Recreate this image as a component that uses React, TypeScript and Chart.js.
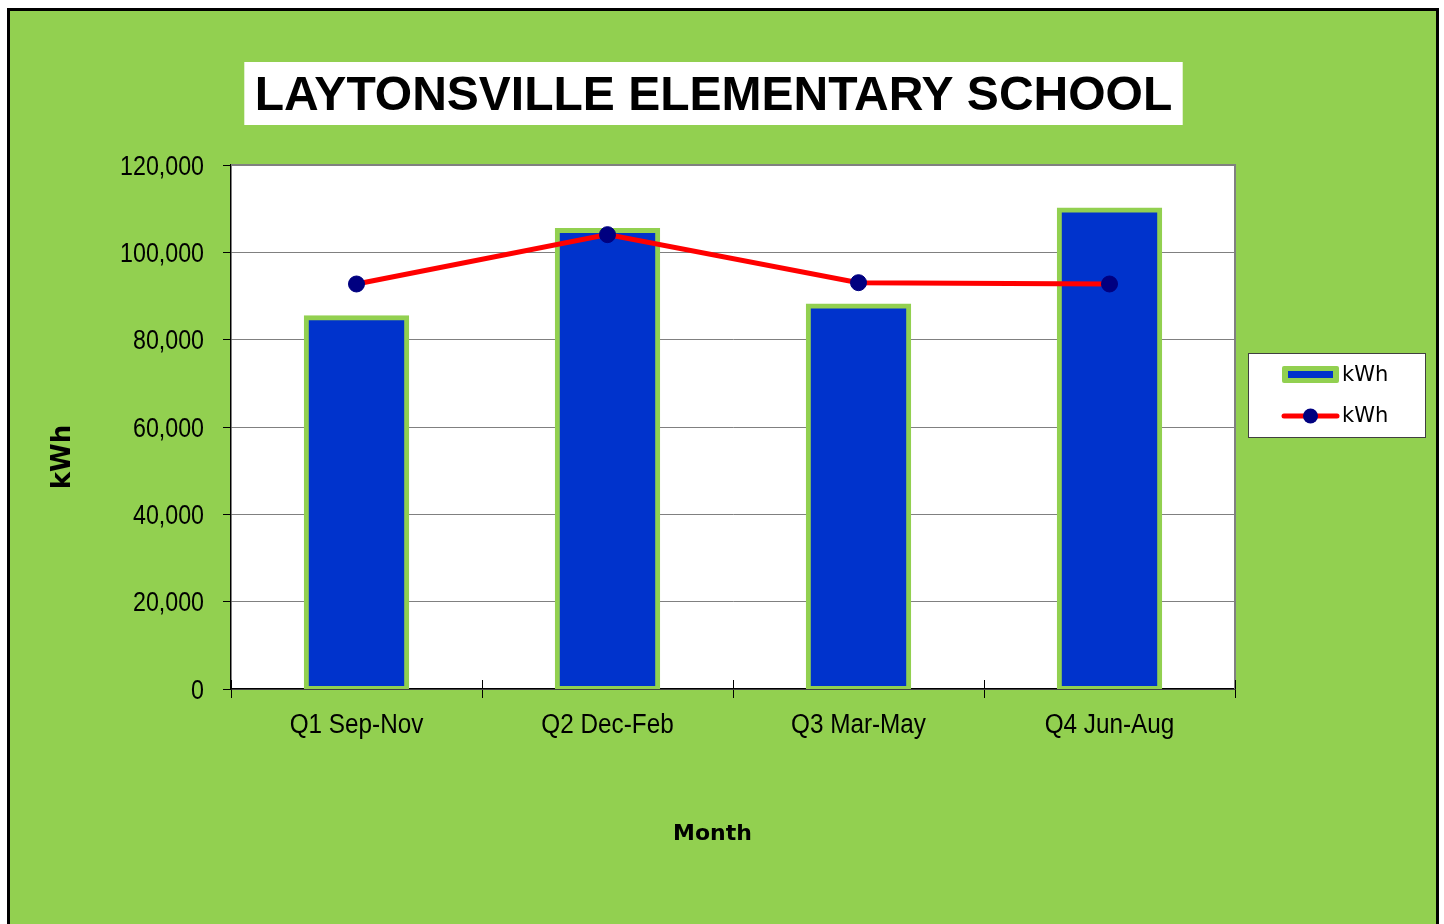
import React, { useEffect, useRef } from "react";
import { Chart, registerables } from "chart.js";

Chart.register(...registerables);

const chartTitle = "LAYTONSVILLE ELEMENTARY SCHOOL";
const xAxisTitle = "Month";
const yAxisTitle = "kWh";
const categories = ["Q1 Sep-Nov", "Q2 Dec-Feb", "Q3 Mar-May", "Q4 Jun-Aug"];
const barLabel = "kWh";
const barValues = [85000, 105000, 87700, 109700];
const lineLabel = "kWh";
const lineValues = [92750, 104050, 93050, 92750];
const yMin = 0;
const yMax = 120000;
const yStep = 20000;

const GREEN = "#92D050";
const BLUE = "#0033CC";
const RED = "#FF0000";
const NAVY = "#000080";
const SANS = "'Liberation Sans', Arial, sans-serif";
const WIDE_BOLD = "'DejaVu Sans', 'Liberation Sans', sans-serif";

const CANVAS_W = 1426;
const CANVAS_H = 913;

const plotBackground = {
  id: "plotBackground",
  beforeDraw(chart: any) {
    const { ctx, chartArea: a } = chart;
    ctx.save();
    ctx.fillStyle = "#FFFFFF";
    ctx.fillRect(a.left, a.top, a.right - a.left, a.bottom - a.top);
    ctx.restore();
  },
  beforeDatasetsDraw(chart: any) {
    const { ctx, chartArea: a } = chart;
    ctx.save();
    ctx.strokeStyle = "#808080";
    ctx.lineWidth = 2;
    ctx.beginPath();
    ctx.moveTo(a.left, a.top);
    ctx.lineTo(a.right, a.top);
    ctx.lineTo(a.right, a.bottom);
    ctx.stroke();
    // cross tick marks on category axis (upper half)
    const xs = chart.scales.x;
    const n = chart.data.labels.length;
    const w = (xs.right - xs.left) / n;
    ctx.strokeStyle = "#000000";
    ctx.lineWidth = 1;
    for (let i = 0; i <= n; i++) {
      const x = Math.round(xs.left + i * w) + 0.5;
      ctx.beginPath();
      ctx.moveTo(x, a.bottom - 9);
      ctx.lineTo(x, a.bottom);
      ctx.stroke();
    }
    ctx.restore();
  },
};

// Tick labels drawn from the scales' own ticks, with a condensed look
const tickLabels = {
  id: "tickLabels",
  afterDraw(chart: any) {
    const { ctx } = chart;
    const ys = chart.scales.y;
    const xs = chart.scales.x;
    ctx.save();
    ctx.fillStyle = "#000000";
    ctx.font = "27px " + SANS;
    ctx.textBaseline = "alphabetic";
    ctx.textAlign = "right";
    ys.ticks.forEach((t: any, i: number) => {
      const y = ys.getPixelForTick(i);
      const label = Number(t.value).toLocaleString("en-US");
      ctx.save();
      ctx.translate(194, y + 9.5);
      ctx.scale(0.86, 1);
      ctx.fillText(label, 0, 0);
      ctx.restore();
    });
    ctx.textAlign = "center";
    const labels = chart.data.labels;
    labels.forEach((lab: string, i: number) => {
      const x = xs.getPixelForValue(i);
      ctx.save();
      ctx.translate(x, 722);
      ctx.scale(0.9, 1);
      ctx.fillText(lab, 0, 0);
      ctx.restore();
    });
    ctx.restore();
  },
};

const decorations = {
  id: "decorations",
  afterDraw(chart: any) {
    const { ctx } = chart;
    ctx.save();
    // Title box
    ctx.font = "bold 48px " + SANS;
    const tw = ctx.measureText(chartTitle).width;
    const cx = 703.5;
    ctx.fillStyle = "#FFFFFF";
    ctx.fillRect(cx - tw / 2 - 10.5, 51, tw + 21, 63);
    ctx.fillStyle = "#000000";
    ctx.textAlign = "center";
    ctx.textBaseline = "alphabetic";
    ctx.fillText(chartTitle, cx, 98.5);

    // Axis titles
    ctx.font = "bold 22px " + WIDE_BOLD;
    ctx.textBaseline = "middle";
    ctx.fillText(xAxisTitle, 702.5, 823);
    ctx.save();
    ctx.translate(53, 446);
    ctx.rotate(-Math.PI / 2);
    ctx.font = "bold 26px " + WIDE_BOLD;
    ctx.fillText(yAxisTitle, 0, 0);
    ctx.restore();

    // Legend
    const lx = 1238.5, ly = 342.5, lw = 177, lh = 84;
    ctx.fillStyle = "#FFFFFF";
    ctx.fillRect(lx, ly, lw, lh);
    ctx.strokeStyle = "#404040";
    ctx.lineWidth = 1;
    ctx.strokeRect(lx, ly, lw, lh);
    const ds = chart.data.datasets;
    const y1 = 363.5;
    ctx.fillStyle = GREEN;
    ctx.beginPath();
    if (ctx.roundRect) ctx.roundRect(1272, y1 - 8.5, 57, 17, 2);
    else ctx.rect(1272, y1 - 8.5, 57, 17);
    ctx.fill();
    ctx.fillStyle = BLUE;
    ctx.fillRect(1278, y1 - 3.5, 45, 7);
    const y2 = 405;
    ctx.strokeStyle = RED;
    ctx.lineWidth = 5;
    ctx.lineCap = "round";
    ctx.beginPath();
    ctx.moveTo(1274, y2);
    ctx.lineTo(1327, y2);
    ctx.stroke();
    ctx.fillStyle = NAVY;
    ctx.beginPath();
    ctx.arc(1300.5, y2, 7.5, 0, Math.PI * 2);
    ctx.fill();
    ctx.fillStyle = "#000000";
    ctx.font = "21px 'DejaVu Sans', 'Liberation Sans', sans-serif";
    ctx.textAlign = "left";
    ctx.textBaseline = "middle";
    ctx.fillText(ds[0].label, 1332, y1 + 1);
    ctx.fillText(ds[1].label, 1332, y2 + 1);
    ctx.restore();
  },
};

export default function App() {
  const ref = useRef<HTMLCanvasElement | null>(null);

  useEffect(() => {
    if (!ref.current) return;
    const chart = new Chart(ref.current, {
      type: "bar",
      data: {
        labels: categories,
        datasets: [
          {
            type: "bar",
            label: barLabel,
            data: barValues,
            backgroundColor: BLUE,
            borderColor: GREEN,
            borderWidth: 5,
            borderSkipped: false,
            inflateAmount: 2.5,
            barPercentage: 0.4,
            categoryPercentage: 1,
            order: 2,
          } as any,
          {
            type: "line",
            label: lineLabel,
            data: lineValues,
            borderColor: RED,
            borderWidth: 5,
            pointBackgroundColor: NAVY,
            pointBorderColor: NAVY,
            pointRadius: 8,
            pointBorderWidth: 1,
            tension: 0,
            order: 1,
          } as any,
        ],
      },
      options: {
        responsive: false,
        animation: false,
        events: [],
        layout: { padding: { left: 0, top: 154, right: 201, bottom: 0 } },
        plugins: {
          legend: { display: false },
          title: { display: false },
          tooltip: { enabled: false },
        },
        scales: {
          x: {
            afterFit: (s: any) => {
              s.height = CANVAS_H - 678;
            },
            grid: {
              offset: true,
              drawOnChartArea: false,
              drawTicks: true,
              tickLength: 9,
              tickColor: "#000000",
            },
            border: { display: true, color: "#000000", width: 1.5 },
            ticks: { display: false },
          },
          y: {
            min: yMin,
            max: yMax,
            afterFit: (s: any) => {
              s.width = 221;
            },
            grid: {
              color: "#808080",
              lineWidth: 1,
              drawTicks: true,
              tickLength: 8,
              tickColor: "#000000",
            },
            border: { display: true, color: "#000000", width: 1.5 },
            ticks: { display: false, stepSize: yStep },
          },
        },
      },
      plugins: [plotBackground, tickLabels, decorations],
    });
    return () => chart.destroy();
  }, []);

  return (
    <div style={{ position: "fixed", inset: 0, overflow: "hidden", background: "#FFFFFF" }}>
      <div
        style={{
          position: "absolute",
          left: 7,
          top: 8,
          width: 1432,
          height: 1000,
          boxSizing: "border-box",
          border: "3px solid #000000",
          background: GREEN,
        }}
      >
        <canvas
          ref={ref}
          width={CANVAS_W}
          height={CANVAS_H}
          style={{ position: "absolute", left: 0, top: 0, width: CANVAS_W, height: CANVAS_H }}
        />
      </div>
    </div>
  );
}
